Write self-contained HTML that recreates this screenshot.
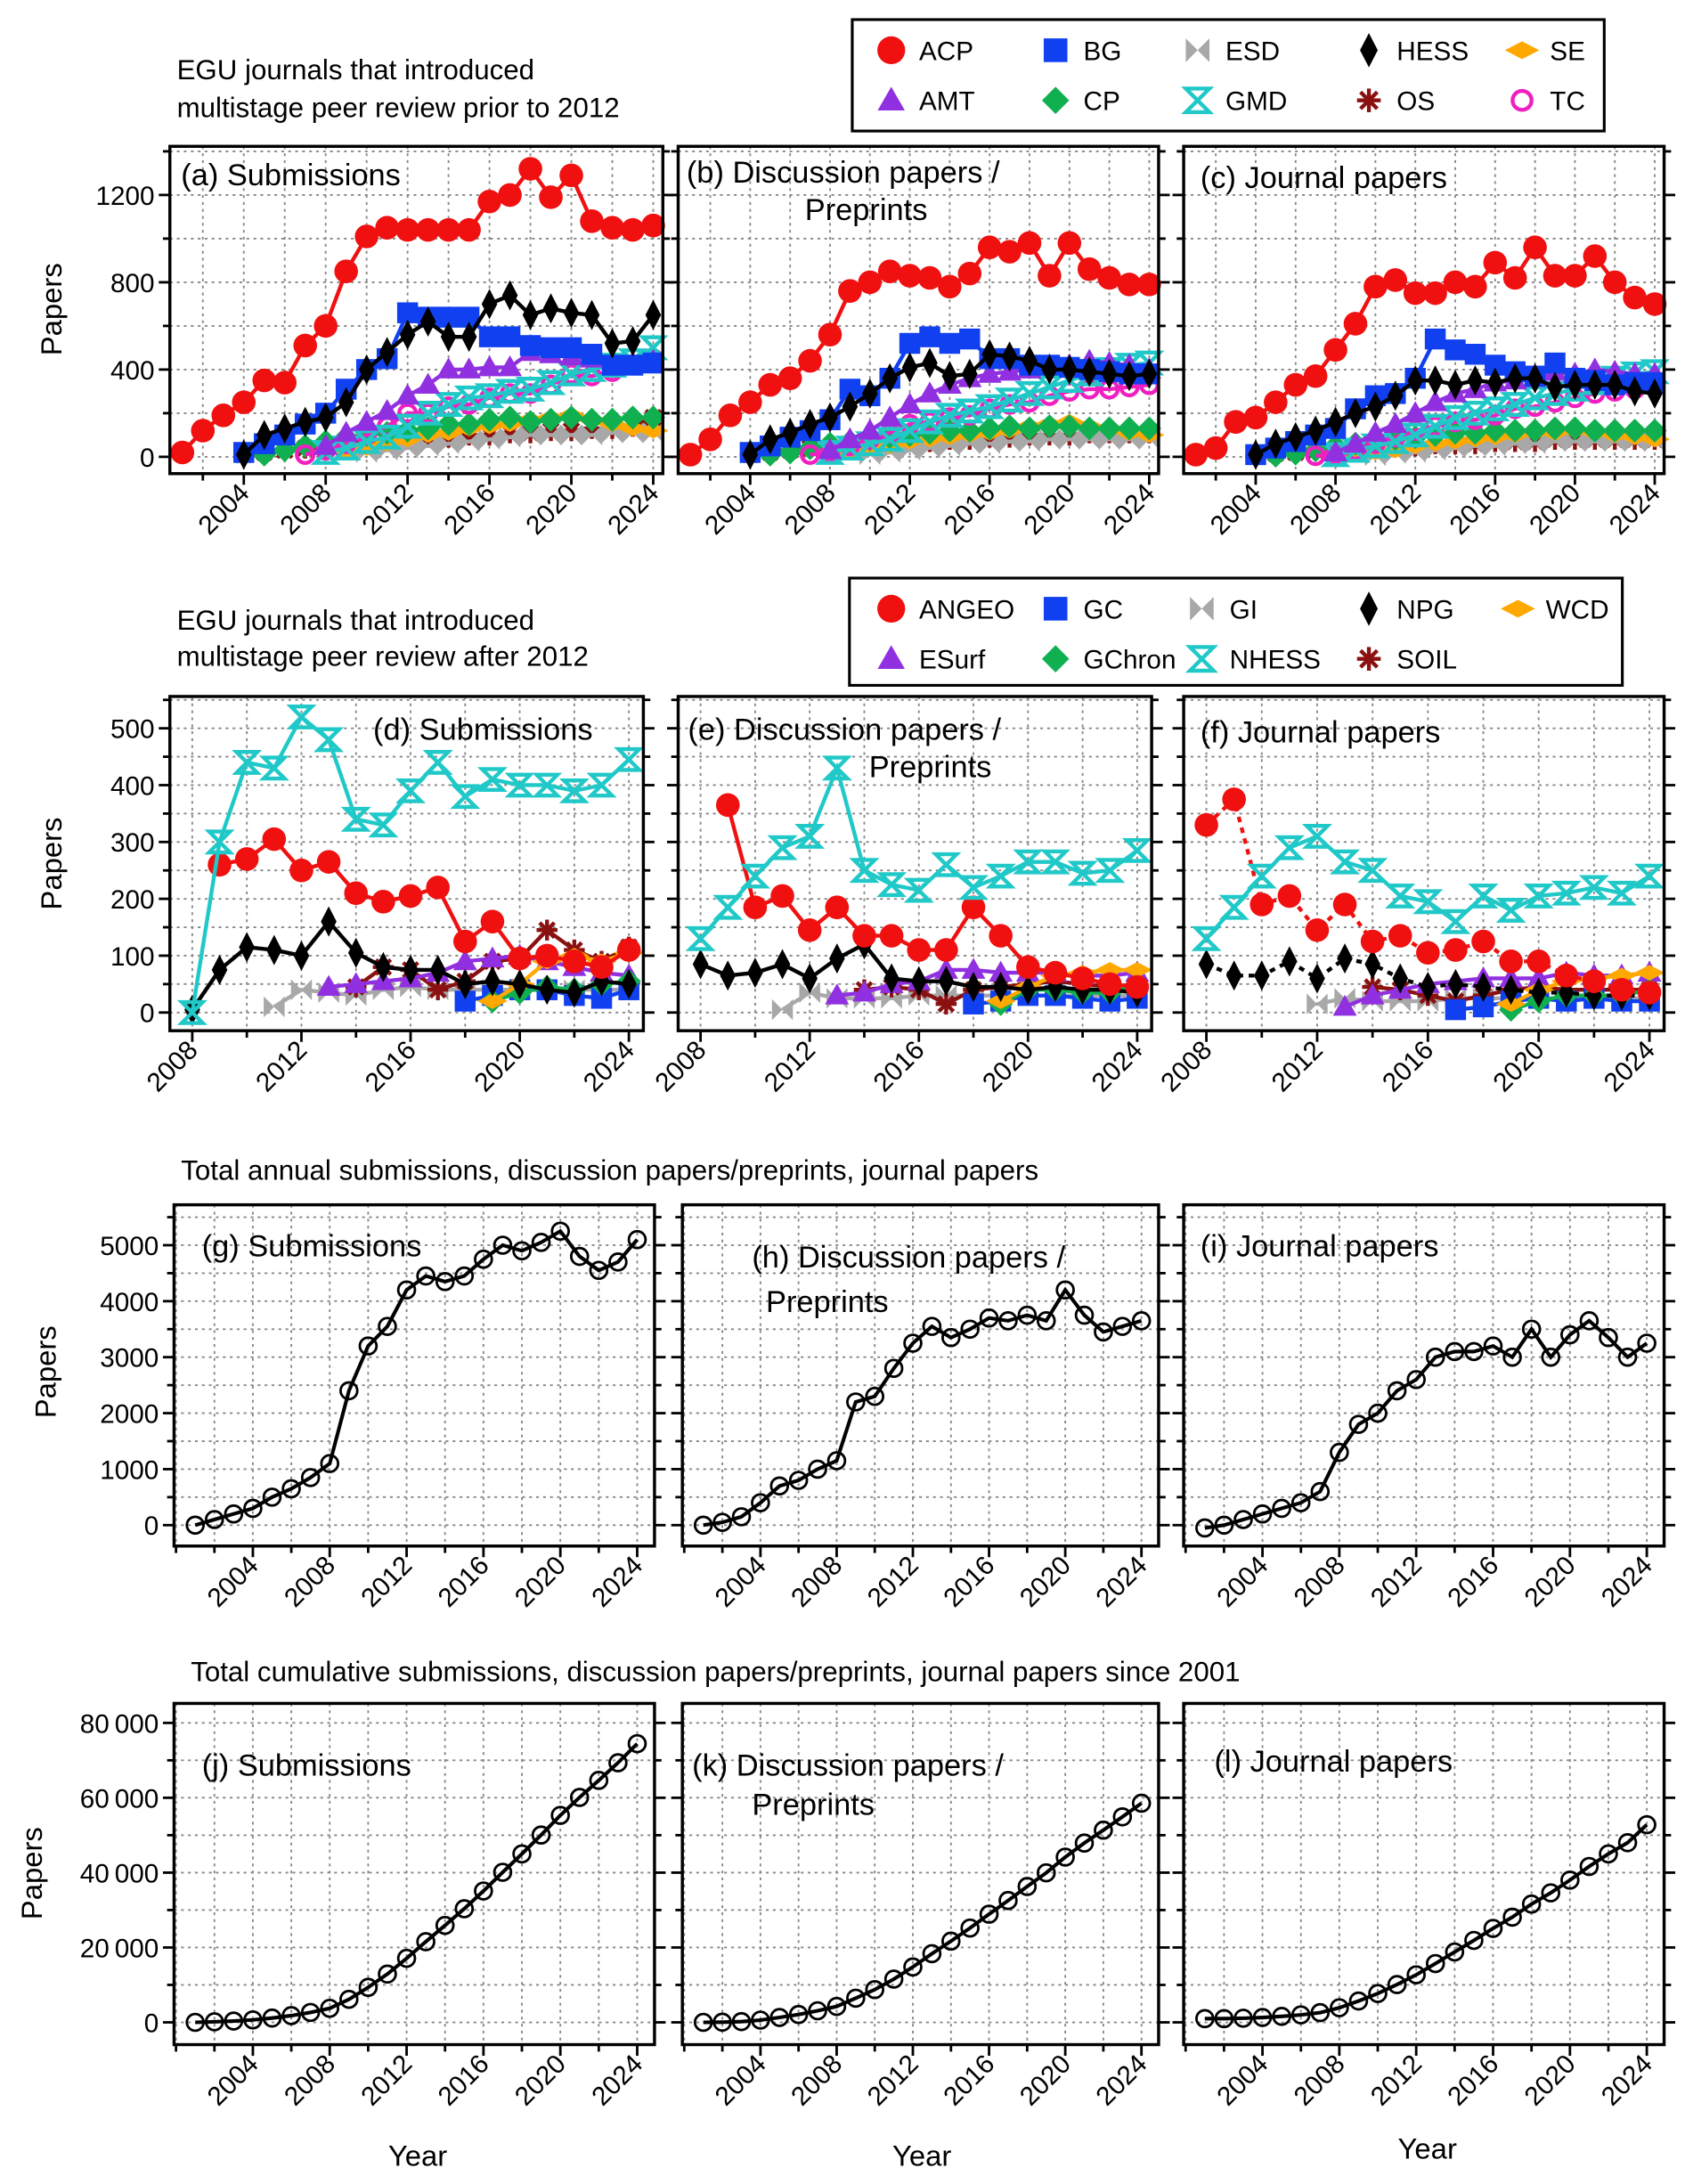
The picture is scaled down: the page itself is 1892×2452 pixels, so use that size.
<!DOCTYPE html>
<html><head><meta charset="utf-8">
<style>
html,body{margin:0;padding:0;background:#fff;}
svg{display:block;font-family:"Liberation Sans",Arial,sans-serif;}
</style></head>
<body>
<svg id="chart" xmlns="http://www.w3.org/2000/svg" width="1892" height="2452" viewBox="0 0 1210 1568"></svg>
<script>
// ---------- DATA ----------
const ticksYear1 = [2004,2008,2012,2016,2020,2024];
const ticksYear2 = [2008,2012,2016,2020,2024];
const yTicksRow1 = [0,400,800,1200];
const yTicksRow2 = [0,100,200,300,400,500];
const yTicksRow3 = [0,1000,2000,3000,4000,5000];
const yTicksRow4 = [0,20000,40000,60000,80000];
const yTickLabelsRow4 = ["0","20\u2009000","40\u2009000","60\u2009000","80\u2009000"];

// Row 1 (a) submissions
const ACP_a=[20,120,190,250,350,340,510,600,850,1010,1050,1040,1040,1040,1040,1170,1200,1320,1190,1290,1080,1050,1040,1060];
const BG_a=[20,60,100,150,200,310,400,450,660,640,640,640,550,550,510,500,500,470,420,420,430];
const HESS_a=[10,100,130,160,180,250,400,480,560,620,550,550,700,740,650,680,660,650,520,530,650];
const AMT_a=[50,110,160,210,280,330,400,400,410,410,480,470,460,450,420,430,440];
const GMD_a=[20,40,70,90,140,200,240,270,280,300,310,340,380,400,420,440,500];
const TC_a=[10,30,60,100,140,200,200,230,240,270,290,290,330,380,370,390,420,450];
const CP_a=[10,30,50,70,90,100,110,120,130,150,150,170,180,160,170,180,170,170,180,180];
const SE_a=[20,40,60,80,100,110,130,140,150,170,180,190,170,150,130,120];
const ESD_a=[20,30,40,50,60,70,80,90,100,100,100,100,110,110,110];
const OS_a=[10,20,30,40,50,60,70,80,80,90,90,100,100,110,110,120,120,130,130,140,180];
// Row 1 (b) discussion papers
const ACP_b=[10,80,190,250,330,360,440,560,760,800,850,830,820,780,840,960,940,980,830,980,860,820,790,790];
const BG_b=[20,50,90,120,170,310,280,360,520,550,520,540,450,450,420,420,410,400,390,380,380];
const HESS_b=[10,80,110,150,180,230,290,360,410,430,370,380,470,460,440,400,400,390,380,370,380];
const AMT_b=[30,80,120,180,240,290,330,360,380,390,400,420,420,440,430,420,400];
const GMD_b=[20,40,60,80,120,160,190,210,230,260,290,320,350,380,400,420,430];
const TC_b=[10,20,50,80,110,150,160,180,190,220,240,250,280,300,310,310,320,330];
const CP_b=[10,20,40,60,70,80,90,100,110,120,120,130,140,130,140,140,130,130,130,130];
const SE_b=[20,40,50,70,80,90,100,110,120,140,150,160,140,130,110,100];
const ESD_b=[10,20,30,40,50,60,60,70,70,80,80,80,80,80,80];
const OS_b=[10,20,30,40,40,50,60,60,70,70,80,80,90,90,100,100,100,110,110,110,110];
// Row 1 (c) journal papers
const ACP_c=[10,40,160,180,250,330,370,490,610,780,810,750,750,800,780,890,820,960,830,830,920,800,730,700];
const BG_c=[10,40,70,100,130,220,280,290,360,540,490,470,420,390,370,430,360,350,330,340,340];
const HESS_c=[10,60,90,120,160,200,230,280,350,350,330,350,340,360,360,320,330,330,330,300,290];
const AMT_c=[20,60,110,150,200,250,290,310,340,350,360,390,380,400,390,380,380];
const GMD_c=[10,30,50,70,100,140,180,200,220,240,270,290,310,340,360,380,390];
const TC_c=[5,10,30,60,90,120,140,160,170,190,220,230,250,270,290,300,310,320];
const CP_c=[5,15,30,50,60,70,80,90,100,110,110,120,120,120,130,130,120,120,120,120];
const SE_c=[10,20,30,50,60,70,80,90,100,110,110,120,110,100,90,80];
const ESD_c=[5,15,20,30,40,50,50,60,60,70,70,70,70,70,70];
const OS_c=[5,15,20,30,30,40,40,50,50,60,60,60,70,70,70,80,80,80,80,80,80];
const start1 = {ACP:2001,BG:2004,HESS:2004,AMT:2008,GMD:2008,TC:2007,CP:2005,SE:2009,ESD:2010,OS:2004};

// Row 2 (d,e,f)
const NHESS_d=[0,300,440,430,520,480,340,330,390,440,380,410,400,400,390,400,445];
const ANGEO_d=[260,270,305,250,265,210,195,205,220,125,160,95,100,90,80,110];
const NPG_d=[5,75,115,110,100,160,105,80,75,75,50,55,50,40,35,55,50];
const SOIL_d=[45,80,75,40,55,90,95,145,110,90,115];
const ESurf_d=[45,50,55,60,70,90,95,100,90,80,70,65];
const GI_d=[10,40,35,30,40,45,40,40,40,40,40,40,40,40];
const GC_d=[20,30,40,40,30,25,40];
const GChron_d=[20,35,45,40,50,55];
const WCD_d=[20,50,90,100,90,105];
const ANGEO_e=[365,185,205,145,185,135,135,110,110,185,135,80,70,60,50,45];
const NHESS_e=[130,185,240,290,310,430,250,225,215,260,220,240,265,265,245,250,285];
const NPG_e=[85,65,70,85,60,95,120,60,55,55,45,45,40,45,40,40,35];
const SOIL_e=[40,45,40,15,40,45,50,55,50,45,50];
const ESurf_e=[30,35,50,55,75,75,70,70,70,65,65,70];
const GI_e=[5,35,25,25,25,30,30,30,30,30,30,30,30,30];
const GC_e=[15,20,30,30,25,20,25];
const GChron_e=[15,40,40,35,35,50];
const WCD_e=[20,45,65,70,75,75];
const ANGEO_f=[330,375,190,205,145,190,125,135,105,110,125,90,90,65,55,40,35];
const NHESS_f=[130,185,240,290,310,265,250,205,195,160,205,180,205,210,220,210,240];
const NPG_f=[85,65,65,90,60,95,85,60,45,50,45,40,35,35,30,30,30];
const SOIL_f=[45,40,30,20,30,40,45,40,40,40,40];
const ESurf_f=[10,30,40,50,55,60,60,60,70,65,65,70];
const GI_f=[15,25,20,20,20,25,25,25,25,25,25,25,25];
const GC_f=[5,10,20,25,20,25,20,20];
const GChron_f=[5,20,30,30,30,40];
const WCD_f=[15,40,55,60,65,70];
const start2d = {NHESS:2008,ANGEO:2009,NPG:2008,SOIL:2014,ESurf:2013,GI:2011,GC:2018,GChron:2019,WCD:2019};
const start2f = {NHESS:2008,ANGEO:2008,NPG:2008,SOIL:2014,ESurf:2013,GI:2012,GC:2017,GChron:2019,WCD:2019};

// Row 3 totals (2001-2024)
const totSub=[0,100,200,300,500,650,850,1100,2400,3200,3550,4200,4450,4350,4450,4750,5000,4900,5050,5250,4800,4550,4700,5100];
const totDisc=[0,50,150,400,700,800,1000,1150,2200,2300,2800,3250,3550,3350,3500,3700,3650,3750,3650,4200,3750,3450,3550,3650];
const totJour=[-50,0,100,200,300,400,600,1300,1800,2000,2400,2600,3000,3100,3100,3200,3000,3500,3000,3400,3650,3350,3000,3250];
// Row 4 cumulative
const cumSub=[0,150,350,650,1150,1800,2650,3750,6150,9350,12900,17100,21550,25900,30350,35100,40100,45000,50050,55300,60100,64650,69350,74450];
const cumDisc=[0,50,200,600,1300,2100,3100,4250,6450,8750,11550,14800,18350,21700,25200,28900,32550,36300,39950,44150,47900,51350,54900,58550];
const cumJour=[1000,1000,1100,1300,1600,2000,2600,3900,5700,7700,10100,12700,15700,18800,21900,25100,28100,31600,34600,38000,41650,45000,48000,52800];

// ---------- STYLE ----------
const STY = {
 ACP:{c:'#f01010',m:'circle'}, BG:{c:'#1040f0',m:'square'}, ESD:{c:'#a8a8a8',m:'bowtie'},
 HESS:{c:'#000',m:'diamondN'}, SE:{c:'#ffa800',m:'diamondF'}, AMT:{c:'#9030e0',m:'triangle'},
 CP:{c:'#10b050',m:'diamond'}, GMD:{c:'#20c8c8',m:'hourglass'}, OS:{c:'#8b1010',m:'star'}, TC:{c:'#f020c0',m:'ring'},
 ANGEO:{c:'#f01010',m:'circle'}, GC:{c:'#1040f0',m:'square'}, GI:{c:'#a8a8a8',m:'bowtie'},
 NPG:{c:'#000',m:'diamondN'}, WCD:{c:'#ffa800',m:'diamondF'}, ESurf:{c:'#9030e0',m:'triangle'},
 GChron:{c:'#10b050',m:'diamond'}, NHESS:{c:'#20c8c8',m:'hourglass'}, SOIL:{c:'#8b1010',m:'star'}
};
const NS='http://www.w3.org/2000/svg';
const svg=document.getElementById('chart');
function mk(tag,attrs,parent){const e=document.createElementNS(NS,tag);for(const k in attrs)e.setAttribute(k,attrs[k]);(parent||svg).appendChild(e);return e;}
function txt(s,x,y,size,parent,anchor){const t=mk('text',{x:x,y:y,'font-size':size,fill:'#000','text-anchor':anchor||'start'},parent);t.textContent=s;return t;}

function marker(g,type,x,y,c,s){
 let e;
 if(type==='circle') e=mk('circle',{cx:x,cy:y,r:s,fill:c},g);
 else if(type==='ring') e=mk('circle',{cx:x,cy:y,r:s*0.8,fill:'none',stroke:c,'stroke-width':2.8},g);
 else if(type==='square') e=mk('rect',{x:x-s,y:y-s,width:2*s,height:2*s,fill:c},g);
 else if(type==='diamondN') e=mk('polygon',{points:`${x},${y-s*1.45} ${x+s*0.75},${y} ${x},${y+s*1.45} ${x-s*0.75},${y}`,fill:c},g);
 else if(type==='diamondF') e=mk('polygon',{points:`${x},${y-s*0.75} ${x+s*1.45},${y} ${x},${y+s*0.75} ${x-s*1.45},${y}`,fill:c},g);
 else if(type==='diamond') e=mk('polygon',{points:`${x},${y-s*1.15} ${x+s*1.15},${y} ${x},${y+s*1.15} ${x-s*1.15},${y}`,fill:c},g);
 else if(type==='triangle') e=mk('polygon',{points:`${x},${y-s*1.15} ${x+s*1.15},${y+s*0.85} ${x-s*1.15},${y+s*0.85}`,fill:c},g);
 else if(type==='bowtie') e=mk('polygon',{points:`${x-s},${y-s} ${x},${y} ${x-s},${y+s} ${x+s},${y+s} ${x},${y} ${x+s},${y-s}`,fill:c,transform:`rotate(90 ${x} ${y})`},g);
 else if(type==='hourglass') e=mk('polygon',{points:`${x-s},${y-s} ${x+s},${y-s} ${x},${y} ${x+s},${y+s} ${x-s},${y+s} ${x},${y}`,fill:'none',stroke:c,'stroke-width':2.8},g);
 else if(type==='star'){e=mk('g',{stroke:c,'stroke-width':2.8},g);for(let a=0;a<4;a++){const an=a*Math.PI/4;mk('line',{x1:x-s*Math.cos(an),y1:y-s*Math.sin(an),x2:x+s*Math.cos(an),y2:y+s*Math.sin(an)},e);}}
 else if(type==='open') e=mk('circle',{cx:x,cy:y,r:s,fill:'none',stroke:'#000','stroke-width':1.8},g);
 return e;
}

function panel(o){
 const g=mk('g',{});
 
 
 const X=v=>o.x0+(v-o.xmin)/(o.xmax-o.xmin)*(o.x1-o.x0);
 const Y=v=>o.y1-(v-o.ymin)/(o.ymax-o.ymin)*(o.y1-o.y0);
 const grid=mk('g',{stroke:'#888','stroke-width':1.2,'stroke-dasharray':'2,3'},g);
 
 
 for(let yr=Math.ceil(o.xmin);yr<=o.xmax;yr++){ if((yr-o.gridX0)%o.gridXStep===0) mk('line',{x1:X(yr),x2:X(yr),y1:o.y0,y2:o.y1},grid);}
 for(let v=o.ymin0;v<=o.ymax;v+=o.gridYStep){ if(v>=o.ymin) mk('line',{x1:o.x0,x2:o.x1,y1:Y(v),y2:Y(v)},grid);}
 const tk=mk('g',{stroke:'#000','stroke-width':1.8},g);
 for(let yr=Math.ceil(o.xmin);yr<=o.xmax;yr++){ const maj=o.xticks.includes(yr); if((yr-o.gridX0)%o.gridXStep===0||maj) mk('line',{x1:X(yr),x2:X(yr),y1:o.y1,y2:o.y1+(maj?8:5)},tk);}
 for(let v=o.ymin0;v<=o.ymax;v+=o.gridYStep){ if(v<o.ymin) continue; const maj=o.yticks.includes(v); mk('line',{x1:o.x0,x2:o.x0-(maj?8:5),y1:Y(v),y2:Y(v)},tk); mk('line',{x1:o.x1,x2:o.x1+(maj?8:5),y1:Y(v),y2:Y(v)},tk);}
 o.xticks.forEach(yr=>{const t=txt(String(yr),X(yr)+5,o.y1+15,19,g,'end');t.setAttribute('transform',`rotate(-45 ${X(yr)+5} ${o.y1+15})`);});
 if(o.ylabels){o.yticks.forEach((v,i)=>{const t=txt(o.ylabels[i],o.x0-11,Y(v)+7,19,g,'end');});}
 (o.series||[]).forEach(s=>{
  const sg=mk('g',{},g);
  
  
  const pts=s.values.map((v,i)=>[X(s.start+i),Y(v)]);
  mk('polyline',{points:pts.map(p=>p.join(',')).join(' '),fill:'none',stroke:s.color,'stroke-width':s.lw||2.8,'stroke-dasharray':s.dash||'none'},sg);
  pts.forEach(p=>{const m=marker(sg,s.marker,p[0],p[1],s.color,s.size);});
 });
 const fr=mk('rect',{x:o.x0,y:o.y0,width:o.x1-o.x0,height:o.y1-o.y0,fill:'none',stroke:'#000','stroke-width':2.2},g);
 
 
 o.title.forEach((l,i)=>{const t=txt(l[0],l[1],l[2],22,g);});
 return {X,Y};
}

function ser(label,values,start,dash){const st=STY[label];return {label,values,start,color:st.c,marker:st.m,size:st.m==='circle'?8.5:7.5,dash};}

// Row 1
const order1=['OS','ESD','SE','CP','TC','GMD','AMT','BG','HESS','ACP'];
const r1data={a:{ACP:ACP_a,BG:BG_a,HESS:HESS_a,AMT:AMT_a,GMD:GMD_a,TC:TC_a,CP:CP_a,SE:SE_a,ESD:ESD_a,OS:OS_a},
 b:{ACP:ACP_b,BG:BG_b,HESS:HESS_b,AMT:AMT_b,GMD:GMD_b,TC:TC_b,CP:CP_b,SE:SE_b,ESD:ESD_b,OS:OS_b},
 c:{ACP:ACP_c,BG:BG_c,HESS:HESS_c,AMT:AMT_c,GMD:GMD_c,TC:TC_c,CP:CP_c,SE:SE_c,ESD:ESD_c,OS:OS_c}};
const r1=[['a',122,476,[['(a) Submissions',130,133]]],['b',487,832,[['(b) Discussion papers /',493,131],['Preprints',578,158]]],['c',850,1195,[['(c) Journal papers',862,135]]]];
r1.forEach((p,i)=>{
 panel({name:'panel-'+p[0],x0:p[1],x1:p[2],y0:105,y1:340,xmin:2000.39,xmax:2024.47,ymin:-77,ymax:1423,ymin0:0,
 gridX0:2000,gridXStep:2,gridYStep:200,xticks:ticksYear1,yticks:yTicksRow1,ylabels:i===0?yTicksRow1.map(String):null,title:p[3],
 series:order1.map(k=>ser(k,r1data[p[0]][k],start1[k]))});
});
// Row 2
const order2=['GI','SOIL','ESurf','GC','GChron','WCD','NPG','ANGEO','NHESS'];
const r2data={d:{NHESS:NHESS_d,ANGEO:ANGEO_d,NPG:NPG_d,SOIL:SOIL_d,ESurf:ESurf_d,GI:GI_d,GC:GC_d,GChron:GChron_d,WCD:WCD_d},
 e:{NHESS:NHESS_e,ANGEO:ANGEO_e,NPG:NPG_e,SOIL:SOIL_e,ESurf:ESurf_e,GI:GI_e,GC:GC_e,GChron:GChron_e,WCD:WCD_e},
 f:{NHESS:NHESS_f,ANGEO:ANGEO_f,NPG:NPG_f,SOIL:SOIL_f,ESurf:ESurf_f,GI:GI_f,GC:GC_f,GChron:GChron_f,WCD:WCD_f}};
const r2=[['d',122,462,[['(d) Submissions',268,531]],start2d],['e',487,827,[['(e) Discussion papers /',494,531],['Preprints',624,558]],start2d],['f',850,1195,[['(f) Journal papers',862,533]],start2f]];
r2.forEach((p,i)=>{
 panel({name:'panel-'+p[0],x0:p[1],x1:p[2],y0:500,y1:740,xmin:2007.18,xmax:2024.53,ymin:-32,ymax:556,ymin0:0,
 gridX0:2008,gridXStep:2,gridYStep:50,xticks:ticksYear2,yticks:yTicksRow2,ylabels:i===0?yTicksRow2.map(String):null,title:p[3],
 series:order2.map(k=>ser(k,r2data[p[0]][k],p[4][k],(p[0]==='f'&&(k==='ANGEO'||k==='NPG'))?'4,4':null))});
});
// Row 3 & 4
function tot(label,vals){return {label,values:vals,start:2001,color:'#000',marker:'open',size:6,lw:2.6};}
const r3=[['g',125,470,[['(g) Submissions',145,902]],totSub],['h',490,832,[['(h) Discussion papers /',540,910],['Preprints',550,942]],totDisc],['i',850,1195,[['(i) Journal papers',862,902]],totJour]];
r3.forEach((p,i)=>{
 panel({name:'panel-'+p[0],x0:p[1],x1:p[2],y0:865,y1:1110,xmin:1999.9,xmax:2024.9,ymin:-373,ymax:5721,ymin0:0,
 gridX0:2000,gridXStep:2,gridYStep:500,xticks:ticksYear1,yticks:yTicksRow3,ylabels:i===0?yTicksRow3.map(String):null,title:p[3],series:[tot('total',p[4])]});
});
const r4=[['j',125,470,[['(j) Submissions',145,1275]],cumSub],['k',490,832,[['(k) Discussion papers /',497,1275],['Preprints',540,1303]],cumDisc],['l',850,1195,[['(l) Journal papers',872,1272]],cumJour]];
r4.forEach((p,i)=>{
 panel({name:'panel-'+p[0],x0:p[1],x1:p[2],y0:1223,y1:1468,xmin:1999.9,xmax:2024.9,ymin:-5953,ymax:85209,ymin0:0,
 gridX0:2000,gridXStep:2,gridYStep:10000,xticks:ticksYear1,yticks:yTicksRow4,ylabels:i===0?yTickLabelsRow4:null,title:p[3],series:[tot('cumulative',p[4])]});
});

[['EGU journals that introduced',127,57],['multistage peer review prior to 2012',127,84],['EGU journals that introduced',127,452],['multistage peer review after 2012',127,478],
 ['Total annual submissions, discussion papers/preprints, journal papers',130,847],['Total cumulative submissions, discussion papers/preprints, journal papers since 2001',137,1207]].forEach(h=>{
 const t=txt(h[0],h[1],h[2],20,svg);});
[[44,222],[44,620],[40,985],[30,1345]].forEach(p=>{const t=txt('Papers',p[0],p[1],21,svg,'middle');t.setAttribute('transform',`rotate(-90 ${p[0]} ${p[1]})`);});
[[300,1555],[662,1555],[1025,1550]].forEach(p=>{const t=txt('Year',p[0],p[1],21,svg,'middle');});

function legend(name,x,y,w,h,rows,colX){
 const g=mk('g',{});
 
 
 mk('rect',{x:x,y:y,width:w,height:h,fill:'#fff',stroke:'#000','stroke-width':2},g);
 rows.forEach((row,ri)=>row.forEach((k,ci)=>{
  const cx=colX[ci], cy=y+22+ri*36; const st=STY[k];
  const e=mk('g',{},g);
  
  
  marker(e,st.m,cx,cy,st.c,st.m==='circle'?10:8.5);
  txt(k,cx+20,cy+7,19,e);
 }));
}
legend('legend-prior-2012',612,14,540,80,[['ACP','BG','ESD','HESS','SE'],['AMT','CP','GMD','OS','TC']],[640,758,860,983,1093]);
legend('legend-after-2012',610,415,555,77,[['ANGEO','GC','GI','NPG','WCD'],['ESurf','GChron','NHESS','SOIL']],[640,758,863,983,1090]);
</script>
</body></html>
